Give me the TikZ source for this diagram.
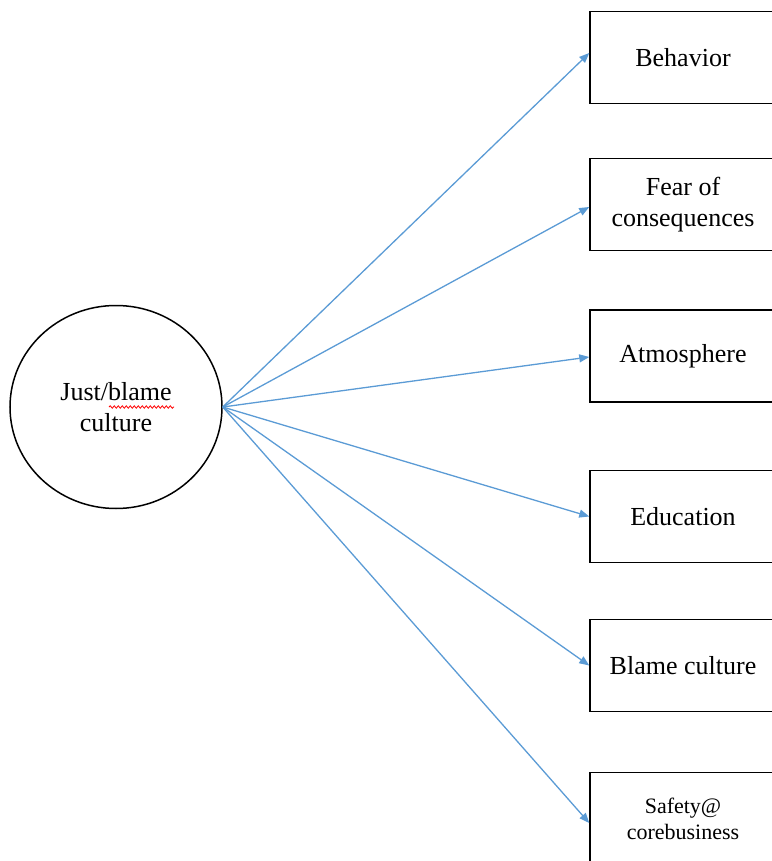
\documentclass[tikz,border=0pt]{standalone}
\usepackage{fontspec}
\setmainfont{Liberation Serif}
\usetikzlibrary{arrows.meta,shapes,decorations.pathmorphing}
\definecolor{linkblue}{HTML}{5B9BD5}

\begin{document}
\begin{tikzpicture}[
  x=1pt,y=-1pt,
  box/.style={rectangle,draw,line width=1.5pt,minimum width=186pt,minimum height=92pt,align=center,font=\fontsize{26}{31}\selectfont},
  hub/.style={ellipse,draw,line width=1.5pt,minimum width=212pt,minimum height=203pt,align=center,font=\fontsize{26}{31}\selectfont},
  arrow/.style={-{Triangle[length=10pt,width=8pt]},linkblue,line width=1.3pt}
]
\useasboundingbox (0,0) rectangle (771,861);

% Centre
\node[hub] (culture) at (116,407) {Just/blame\\culture};
\draw[red,line width=0.8pt,decorate,decoration={snake,amplitude=1.2pt,segment length=4pt}] (109,407) -- (174,407);

% Factors
\node[box] (behavior) at (683,57.5) {Behavior};
\node[box] (fear) at (683,204.5) {Fear of\\consequences};
\node[box] (atmosphere) at (683,356) {Atmosphere};
\node[box] (education) at (683,516.5) {Education};
\node[box] (blame) at (683,665.5) {Blame culture};
\node[box,font=\fontsize{22}{26}\selectfont] (safety) at (683,818.5) {Safety@\\corebusiness};

% Arrows
\draw[arrow] (culture.east) -- ([yshift=4.5pt]behavior.west);
\draw[arrow] (culture.east) -- ([yshift=-2.5pt]fear.west);
\draw[arrow] (culture.east) -- ([yshift=-1pt]atmosphere.west);
\draw[arrow] (culture.east) -- (education.west);
\draw[arrow] (culture.east) -- (blame.west);
\draw[arrow] (culture.east) -- ([yshift=-4.5pt]safety.west);

\end{tikzpicture}
\end{document}
